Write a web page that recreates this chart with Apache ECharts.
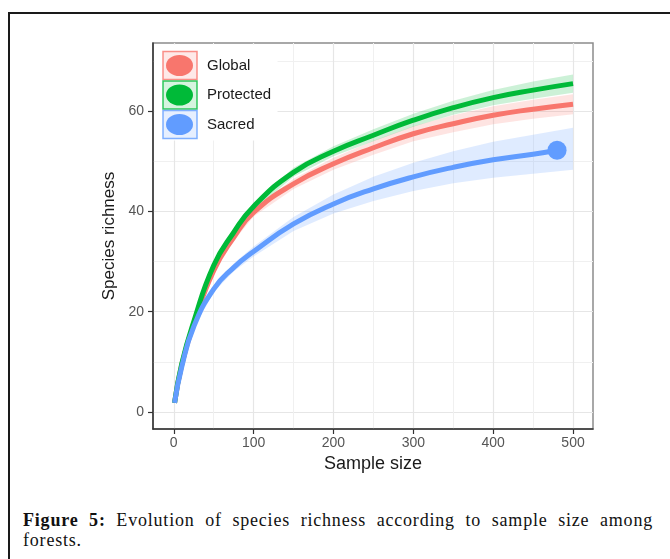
<!DOCTYPE html>
<html>
<head>
<meta charset="utf-8">
<script src="https://cdn.jsdelivr.net/npm/echarts@6/dist/echarts.min.js"></script>
<style>
  html, body { margin: 0; padding: 0; background: #fff; }
  #wrap { position: relative; width: 670px; height: 559px; overflow: hidden; }
  #frame { position: absolute; left: 8px; top: 12px; width: 700px; height: 600px;
           border-left: 2px solid #1a1a1a; border-top: 2px solid #1a1a1a; }
  #chart { position: absolute; left: 0; top: 0; width: 670px; height: 500px; }
  #caption { position: absolute; left: 23px; top: 510px; width: 630px;
             font-family: 'Liberation Serif', 'DejaVu Serif', serif; font-size: 18px;
             letter-spacing: 0.8px; line-height: 20px; color: #111; }
  #caption .l1 { text-align: justify; text-align-last: justify; }
</style>
</head>
<body>
<div id="wrap">
  <div id="frame"></div>
  <div id="chart"></div>
  <div id="caption">
    <div class="l1"><b>Figure 5:</b> Evolution of species richness according to sample size among</div>
    <div>forests.</div>
  </div>
</div>
<script>
// values
let sampleSize = [1, 10, 25, 50, 75, 100, 150, 200, 250, 300, 350, 400, 450, 500];
let sacredSize = [1, 10, 25, 50, 75, 100, 150, 200, 250, 300, 350, 400, 450, 480];

let globalRich    = [1.8, 9.4, 17.6, 28.2, 34.8, 39.8, 45.5, 49.5, 52.7, 55.5, 57.5, 59.2, 60.4, 61.4];
let globalLow     = [1.8, 9.2, 17.2, 27.6, 34.1, 39.0, 44.5, 48.3, 51.3, 54.0, 55.8, 57.4, 58.5, 59.4];
let globalHigh    = [1.8, 9.6, 18.0, 28.8, 35.5, 40.6, 46.5, 50.7, 54.1, 57.0, 59.2, 61.0, 62.3, 63.4];

let protectedRich = [1.8, 9.6, 18.0, 29.2, 35.8, 41.0, 47.8, 52.0, 55.2, 58.2, 60.7, 62.7, 64.2, 65.5];
let protectedLow  = [1.8, 9.4, 17.6, 28.7, 35.2, 40.3, 46.9, 51.0, 54.0, 56.9, 59.3, 61.2, 62.5, 63.7];
let protectedHigh = [1.8, 9.8, 18.4, 29.7, 36.4, 41.7, 48.7, 53.0, 56.4, 59.5, 62.1, 64.2, 65.9, 67.3];

let sacredRich    = [1.8, 9.0, 17.0, 24.5, 28.8, 32.0, 37.5, 41.5, 44.5, 46.9, 48.8, 50.3, 51.4, 52.2];
let sacredLow     = [1.8, 8.8, 16.6, 23.9, 28.0, 31.0, 36.1, 39.6, 42.1, 44.1, 45.6, 46.7, 47.5, 48.3];
let sacredHigh    = [1.8, 9.2, 17.4, 25.1, 29.6, 33.0, 38.9, 43.4, 46.9, 49.7, 52.0, 53.9, 55.3, 56.7];
let sacredObserved = [480, 52.2];

let xTicks = [0, 100, 200, 300, 400, 500];
let xMinor = [50, 150, 250, 350, 450];
let yTicks = [0, 20, 40, 60];
let yMinor = [10, 30, 50, 70];

let red = '#F8766D', green = '#00BA38', blue = '#619CFF';
let font = "'Liberation Sans', Arial, sans-serif";

function pairs(xs, ys) {
    return xs.map(function (x, i) { return [x, ys[i]]; });
}

function bandSeries(name, xs, lo, hi, fill) {
    return {
        type: 'custom',
        name: name + ' band',
        silent: true,
        z: 1,
        data: xs.map(function (x, i) { return [x, lo[i], hi[i]]; }),
        encode: {x: 0, y: [1, 2]},
        renderItem: function (params, api) {
            if (params.dataIndex !== 0) return;
            let pts = [];
            for (let i = 0; i < xs.length; i++) pts.push(api.coord([xs[i], hi[i]]));
            for (let i = xs.length - 1; i >= 0; i--) pts.push(api.coord([xs[i], lo[i]]));
            return {type: 'polygon', shape: {points: pts}, style: {fill: fill}};
        }
    };
}

function lineSeries(name, xs, ys, color, z) {
    return {
        type: 'line',
        name: name,
        data: pairs(xs, ys),
        smooth: 0.5,
        symbol: 'none',
        lineStyle: {width: 5, color: color},
        itemStyle: {color: color},
        z: z
    };
}

function valueAxis(isX, ticks, minor) {
    let base = {
        type: 'value',
        min: isX ? -26 : -3.4,
        max: isX ? 525 : 73.6,
        axisLine: {show: true, onZero: false, lineStyle: {color: '#333', width: 1.5}},
        axisTick: {show: true, length: 5, customValues: ticks, lineStyle: {color: '#333', width: 1.2}},
        axisLabel: {customValues: ticks, fontSize: 14, color: '#555', fontFamily: font, margin: isX ? 7 : 9},
        splitLine: {show: true, lineStyle: {color: '#e6e6e6', width: 1.2}}
    };
    let minorAxis = {
        type: 'value',
        min: base.min,
        max: base.max,
        axisLine: {show: false},
        axisTick: {show: false, customValues: minor},
        axisLabel: {show: false, customValues: minor},
        splitLine: {show: true, lineStyle: {color: '#f0f0f0', width: 1}}
    };
    return [base, minorAxis];
}

let xAxes = valueAxis(true, xTicks, xMinor);
xAxes[0].name = 'Sample size';
xAxes[0].nameLocation = 'middle';
xAxes[0].nameGap = 25;
xAxes[0].nameTextStyle = {fontSize: 18, color: '#1a1a1a', fontFamily: font};

let yAxes = valueAxis(false, yTicks, yMinor);
yAxes[0].name = 'Species richness';
yAxes[0].nameLocation = 'middle';
yAxes[0].nameGap = 23;
yAxes[0].nameTextStyle = {fontSize: 17, color: '#1a1a1a', fontFamily: font};

let keyBox = function (y, color, fill) {
    return {type: 'rect', z: 11, shape: {x: 163, y: y, width: 34, height: 28},
            style: {fill: fill, stroke: color, lineWidth: 1.5, opacity: 0.8}};
};

let myChart = echarts.init(document.getElementById('chart'));
let option = {
    animation: false,
    grid: {left: 153, top: 43, right: 77, bottom: 71, show: true,
           borderColor: '#8c8c8c', borderWidth: 1.5, backgroundColor: '#fff'},
    xAxis: xAxes,
    yAxis: yAxes,
    legend: {
        data: ['Global', 'Protected', 'Sacred'],
        orient: 'vertical',
        left: 166, top: 55, padding: 0, itemGap: 8.5,
        itemWidth: 27, itemHeight: 21,
        symbolKeepAspect: false,
        icon: 'path://M0,10A10,10 0 1 1 20,10A10,10 0 1 1 0,10Z',
        selectedMode: false,
        textStyle: {fontSize: 15, color: '#1a1a1a', fontFamily: font, padding: [0, 0, 0, 9]},
        z: 20
    },
    graphic: [
        {type: 'rect', z: 10, shape: {x: 154.5, y: 44.5, width: 123, height: 96}, style: {fill: '#fff'}},
        keyBox(51.5, red, 'rgba(248,118,109,0.2)'),
        keyBox(81, green, 'rgba(0,186,56,0.2)'),
        keyBox(110.5, blue, 'rgba(97,156,255,0.2)')
    ],
    series: [
        bandSeries('Global', sampleSize, globalLow, globalHigh, 'rgba(248,118,109,0.2)'),
        bandSeries('Protected', sampleSize, protectedLow, protectedHigh, 'rgba(0,186,56,0.2)'),
        bandSeries('Sacred', sampleSize, sacredLow, sacredHigh, 'rgba(97,156,255,0.2)'),
        lineSeries('Global', sampleSize, globalRich, red, 3),
        lineSeries('Protected', sampleSize, protectedRich, green, 4),
        lineSeries('Sacred', sacredSize, sacredRich, blue, 5),
        {type: 'scatter', name: 'Sacred observed', data: [sacredObserved], symbolSize: 19,
         itemStyle: {color: blue, opacity: 1}, z: 6}
    ]
};
myChart.setOption(option);
</script>
</body>
</html>
